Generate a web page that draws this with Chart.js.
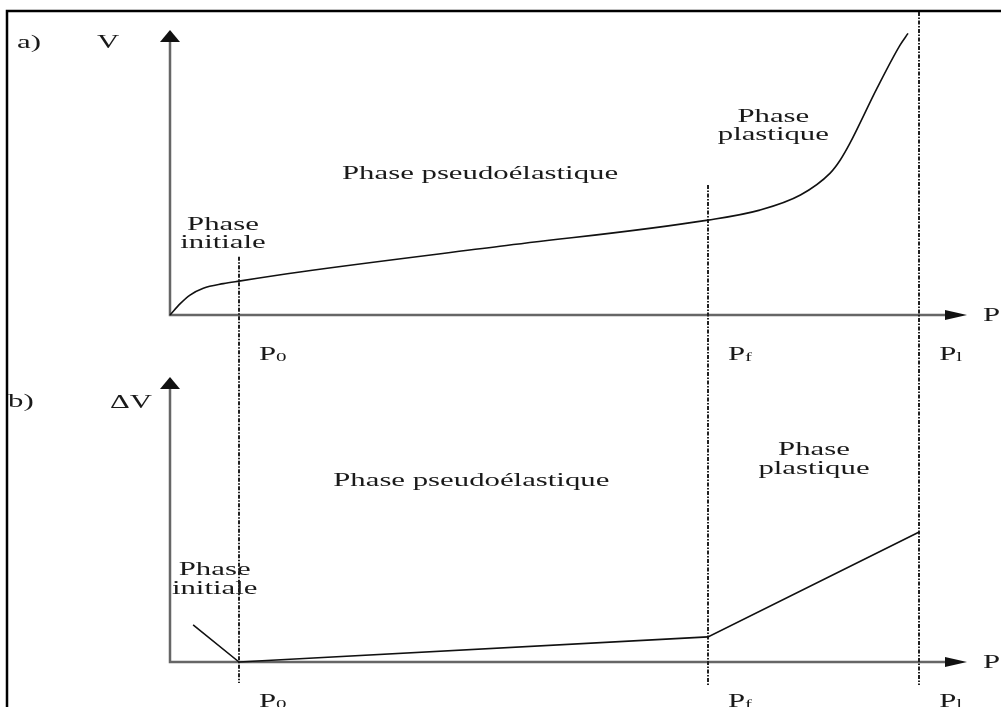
<!DOCTYPE html>
<html>
<head>
<meta charset="utf-8">
<script src="https://cdn.jsdelivr.net/npm/chart.js@4.4.1/dist/chart.umd.min.js"></script>
<style>
  html, body { margin: 0; padding: 0; background: #fff; }
  #wrap { width: 1001px; height: 707px; }
</style>
</head>
<body>
<div id="wrap"><canvas id="diagram" width="1001" height="707"></canvas></div>
<script>
// ===== DATA =====
const P_MAX = 100;              // x axis runs 0..100 (arrow tip)
const P0 = 8.66, PF = 67.5, PL = 94.0;

// a) V as a function of P
const curveAP = [0, 1.25, 2.51, 4.18, 6.69, 8.66, 16.3, 41.4, 67.5, 74.0, 79.1, 82.8, 84.1, 85.3, 88.7, 91.6, 92.6];
const curveAV = [0, 3.9, 7.0, 9.4, 11.0, 11.9, 15.1, 24.1, 33.3, 36.8, 42.1, 49.7, 54.4, 60.2, 79.5, 94.7, 98.8];

// b) delta V as a function of P
const curveBP = [2.9, P0, PF, PL];
const curveBdV = [13.0, 0, 8.8, 45.6];

// vertical guides: top in V units (panel a), bottom in dV units (panel b)
const guideP = [P0, PF, PL];
const guideTop = [20.4, 45.6, 106.3];
const guideBottom = [-7.4, -8.1, -8.1];
const guideNames = [['P', '0'], ['P', 'f'], ['P', 'l']];

// ===== LAYOUT =====
const A_TOP = 30, A_ZERO = 315;   // panel a: arrow tip / origin (px)
const B_TOP = 377, B_ZERO = 662;  // panel b
const X_LEFT = 170, X_RIGHT = 967;
const V_MIN = -(B_ZERO - A_ZERO) / (A_ZERO - A_TOP) * 100;
const DV_MAX = (B_ZERO - A_TOP) / (B_ZERO - B_TOP) * 100;

const FONT = '"Liberation Serif", "DejaVu Serif", serif';
const STRETCH = 1.62;
const TEXT = '#1a1a1a';

const phaseLabels = [
  { lines: ['Phase', 'initiale'], x: 6.65, y: [31.6, 25.3], axis: 'ya' },
  { lines: ['Phase pseudoélastique'], x: 38.9, y: [49.5], axis: 'ya' },
  { lines: ['Phase', 'plastique'], x: 75.7, y: [69.5, 63.2], axis: 'ya' },
  { lines: ['Phase', 'initiale'], x: 5.6, y: [32.3, 25.6], axis: 'yb' },
  { lines: ['Phase pseudoélastique'], x: 37.8, y: [63.5], axis: 'yb' },
  { lines: ['Phase', 'plastique'], x: 80.8, y: [74.4, 67.7], axis: 'yb' },
];

function wideText(ctx, str, x, y, size, align) {
  ctx.save();
  ctx.translate(x, y);
  ctx.scale(STRETCH, 1);
  ctx.font = `${size}px ${FONT}`;
  ctx.textAlign = align || 'center';
  ctx.textBaseline = 'middle';
  ctx.fillStyle = TEXT;
  ctx.fillText(str, 0, 0);
  ctx.restore();
}

function arrowAxes(ctx, x, yS) {
  const ox = x.getPixelForValue(0), oy = yS.getPixelForValue(0);
  const tipY = yS.getPixelForValue(100), tipX = x.getPixelForValue(P_MAX);
  ctx.strokeStyle = '#666';
  ctx.lineWidth = 2.5;
  ctx.beginPath();
  ctx.moveTo(ox, tipY + 11);
  ctx.lineTo(ox, oy);
  ctx.lineTo(tipX - 20, oy);
  ctx.stroke();
  ctx.fillStyle = '#111';
  ctx.beginPath();
  ctx.moveTo(ox, tipY);
  ctx.lineTo(ox - 10, tipY + 12);
  ctx.lineTo(ox + 10, tipY + 12);
  ctx.closePath();
  ctx.fill();
  ctx.beginPath();
  ctx.moveTo(tipX, oy);
  ctx.lineTo(tipX - 22, oy - 5);
  ctx.lineTo(tipX - 22, oy + 5);
  ctx.closePath();
  ctx.fill();
}

const diagramPlugin = {
  id: 'diagram',
  beforeDatasetsDraw(chart) {
    const { ctx, scales: { x, ya, yb } } = chart;
    ctx.save();
    // frame
    ctx.strokeStyle = '#000';
    ctx.lineWidth = 2.5;
    ctx.beginPath();
    ctx.moveTo(7, 707);
    ctx.lineTo(7, 11);
    ctx.lineTo(1001, 11);
    ctx.stroke();

    arrowAxes(ctx, x, ya);
    arrowAxes(ctx, x, yb);

    // guides (dash-dot)
    ctx.strokeStyle = '#222';
    ctx.lineWidth = 2;
    ctx.setLineDash([4, 1.5, 1.5, 1.5]);
    guideP.forEach((p, i) => {
      const px = Math.round(x.getPixelForValue(p));
      ctx.beginPath();
      ctx.moveTo(px, ya.getPixelForValue(guideTop[i]));
      ctx.lineTo(px, yb.getPixelForValue(guideBottom[i]));
      ctx.stroke();
    });
    ctx.setLineDash([]);
    ctx.restore();
  },
  afterDatasetsDraw(chart) {
    const { ctx, scales } = chart;
    const { x, ya, yb } = scales;
    ctx.save();
    phaseLabels.forEach(l => {
      l.lines.forEach((t, i) => {
        wideText(ctx, t, x.getPixelForValue(l.x), scales[l.axis].getPixelForValue(l.y[i]), 19);
      });
    });

    // panel titles and axis names
    const ox = x.getPixelForValue(0);
    wideText(ctx, 'a)', 17, ya.getPixelForValue(100) + 13, 19, 'left');
    wideText(ctx, 'V', ox - 73, ya.getPixelForValue(100) + 13, 19, 'left');
    wideText(ctx, 'b)', 8, yb.getPixelForValue(100) + 25, 19, 'left');
    wideText(ctx, 'ΔV', ox - 60, yb.getPixelForValue(100) + 26, 19, 'left');
    [ya, yb].forEach(yS => {
      const oy = yS.getPixelForValue(0);
      wideText(ctx, 'P', x.getPixelForValue(P_MAX) + 16, oy + 1, 19, 'left');
      guideP.forEach((p, i) => {
        const px = x.getPixelForValue(p) + 20;
        const py = oy + 40;
        wideText(ctx, guideNames[i][0], px, py, 19, 'left');
        wideText(ctx, guideNames[i][1], px + 17, py + 3, 13, 'left');
      });
    });
    ctx.restore();
  }
};

new Chart(document.getElementById('diagram'), {
  type: 'line',
  data: {
    datasets: [
      {
        data: curveAP.map((p, i) => ({ x: p, y: curveAV[i] })),
        yAxisID: 'ya',
        borderColor: '#111',
        borderWidth: 1.6,
        pointRadius: 0,
        cubicInterpolationMode: 'monotone',
        fill: false,
        clip: false,
      },
      {
        data: curveBP.map((p, i) => ({ x: p, y: curveBdV[i] })),
        yAxisID: 'yb',
        borderColor: '#111',
        borderWidth: 1.6,
        pointRadius: 0,
        tension: 0,
        fill: false,
        clip: false,
      },
    ],
  },
  options: {
    responsive: false,
    animation: false,
    devicePixelRatio: 1,
    layout: { padding: { left: X_LEFT, right: 1001 - X_RIGHT, top: A_TOP, bottom: 707 - B_ZERO } },
    plugins: { legend: { display: false }, tooltip: { enabled: false } },
    scales: {
      x: { type: 'linear', min: 0, max: P_MAX, display: false },
      ya: { type: 'linear', min: V_MIN, max: 100, display: false },
      yb: { type: 'linear', min: 0, max: DV_MAX, display: false },
    },
  },
  plugins: [diagramPlugin],
});
</script>
</body>
</html>
